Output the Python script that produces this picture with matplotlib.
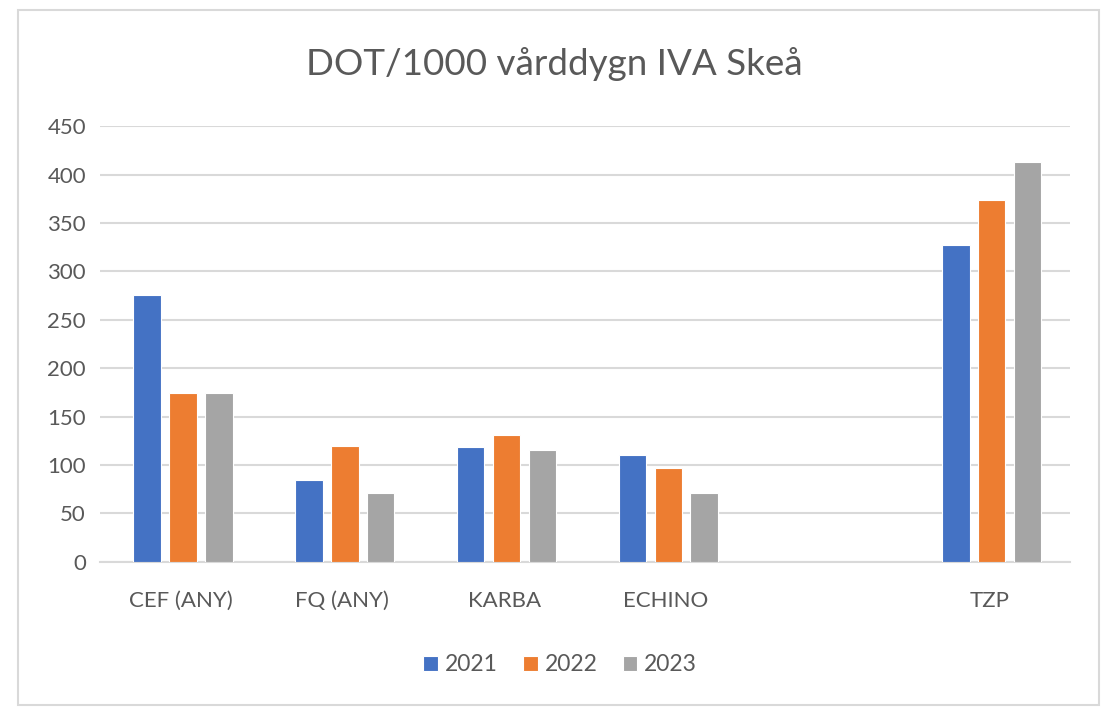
import matplotlib
matplotlib.use("Agg")
import matplotlib.pyplot as plt
import numpy as np
from matplotlib.patches import Rectangle

categories = ["CEF (ANY)", "FQ (ANY)", "KARBA", "ECHINO", "", "TZP"]
years = ["2021", "2022", "2023"]
v2021 = [276, 84, 118, 110, np.nan, 327]
v2022 = [174, 120, 131, 97, np.nan, 374]
v2023 = [174, 71, 115, 71, np.nan, 413]
colors = ["#4472C4", "#ED7D31", "#A5A5A5"]
yticks = [0, 50, 100, 150, 200, 250, 300, 350, 400, 450]

plt.rcParams['font.family'] = ['Lato', 'DejaVu Sans']
txt = "#595959"

fig = plt.figure(figsize=(11.09, 7.11), dpi=100)
fig.patches.append(Rectangle((0.016, 0.008), 0.975, 0.978, transform=fig.transFigure,
                             fill=False, edgecolor="#D9D9D9", linewidth=1.5))
ax = fig.add_axes([0.090, 0.210, 0.875, 0.6125])

x = np.arange(len(categories))
w = 0.17
off = 0.222
for i, (vals, c, lab) in enumerate(zip([v2021, v2022, v2023], colors, years)):
    ax.bar(x + (i - 1) * off + 0.015, vals, width=w, color=c, edgecolor="white", linewidth=0.8,
           label=lab, zorder=3)

ax.set_xlim(-0.5, len(categories) - 0.5)
ax.set_ylim(0, 450)
ax.set_yticks(yticks)
ax.set_xticks(x)
ax.set_xticklabels(categories)
ax.yaxis.grid(True, color="#D9D9D9", linewidth=1.5, zorder=0)
ax.tick_params(axis="both", length=0, labelsize=16, colors=txt)
ax.tick_params(axis="x", pad=21)
ax.tick_params(axis="y", pad=10)
for s in ["top", "right", "left"]:
    ax.spines[s].set_visible(False)
ax.spines["bottom"].set_color("#D9D9D9")
ax.spines["bottom"].set_linewidth(1.5)

fig.text(0.5, 0.910, "DOT/1000 vårddygn IVA Skeå", ha="center", va="center",
         fontsize=26.5, color=txt)
fig.legend(loc="center", bbox_to_anchor=(0.505, 0.065), ncol=3, frameon=False,
           fontsize=16.5, labelcolor=txt, handlelength=0.65, handleheight=0.65,
           handletextpad=0.3, columnspacing=1.1)

fig.savefig("out.png", dpi=100)
